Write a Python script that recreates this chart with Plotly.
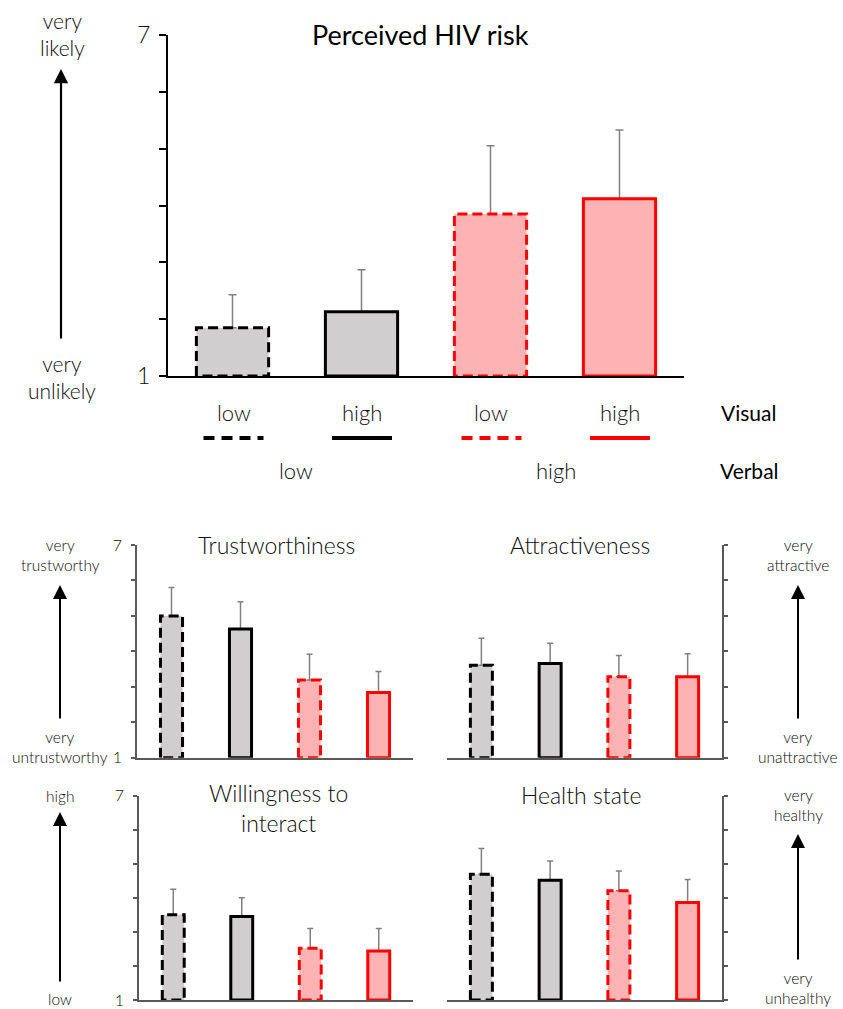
import plotly.graph_objects as go

# ---- data ---------------------------------------------------------------
conditions = ["low/low", "high/low", "low/high", "high/high"]  # visual / verbal

hiv_mean = [1.85, 2.13, 3.85, 4.12]
hiv_se = [0.58, 0.74, 1.20, 1.21]

trust_mean = [5.00, 4.63, 3.19, 2.84]
trust_se = [0.80, 0.77, 0.73, 0.59]

attract_mean = [3.61, 3.66, 3.28, 3.28]
attract_se = [0.76, 0.57, 0.60, 0.65]

willing_mean = [3.50, 3.45, 2.52, 2.44]
willing_se = [0.75, 0.55, 0.58, 0.66]

health_mean = [4.69, 4.52, 4.21, 3.86]
health_se = [0.76, 0.56, 0.58, 0.68]

scale_ticks = [1, 2, 3, 4, 5, 6, 7]
scale_ticktext = ["1", "", "", "", "", "", "7"]

visual_labels = ["low", "high", "low", "high"]
verbal_labels = ["low", "high"]

# ---- styling ------------------------------------------------------------
W, H = 843, 1009
FONT = "Lato"
GREY_FILL = "#D0CECE"
PINK_FILL = "#FDB3B3"
RED = "#FF0000"
BLACK = "#000000"
ERR = "#808080"
TXT = "#0d0d0d"
fills = [GREY_FILL, GREY_FILL, PINK_FILL, PINK_FILL]
edges = [BLACK, BLACK, RED, RED]
dashes = ["dash", "solid", "dash", "solid"]


def px(x):
    return x / W


def py(y):
    return 1 - y / H


fig = go.Figure()


def add_panel(idx, means, ses, bar_w, dash_pat, err_w, edge_w):
    xa = "x" if idx == 1 else f"x{idx}"
    ya = "y" if idx == 1 else f"y{idx}"
    for i, (m, s) in enumerate(zip(means, ses)):
        fig.add_trace(go.Bar(
            x=[i], y=[m], width=bar_w, xaxis=xa, yaxis=ya,
            marker=dict(color=fills[i], line=dict(width=0)),
            error_y=dict(type="data", symmetric=False, array=[s], arrayminus=[0],
                         color=ERR, thickness=1.5, width=err_w),
            showlegend=False, hoverinfo="skip",
        ))
        x0, x1 = i - bar_w / 2, i + bar_w / 2
        fig.add_trace(go.Scatter(
            x=[x0, x0, x1, x1, x0], y=[1, m, m, 1, 1], xaxis=xa, yaxis=ya,
            mode="lines",
            line=dict(color=edges[i], width=edge_w,
                      dash=dash_pat if dashes[i] == "dash" else "solid"),
            showlegend=False, hoverinfo="skip",
        ))


add_panel(1, hiv_mean, hiv_se, 0.56, "10px,5px", 4, 3)
add_panel(2, trust_mean, trust_se, 0.32, "10px,5px", 3, 3)
add_panel(3, attract_mean, attract_se, 0.32, "10px,5px", 3, 3)
add_panel(4, willing_mean, willing_se, 0.32, "10px,5px", 3, 3)
add_panel(5, health_mean, health_se, 0.32, "10px,5px", 3, 3)

# ---- axes ---------------------------------------------------------------
def xaxis(domain, anchor, color, lw):
    return dict(domain=domain, anchor=anchor, range=[-0.5, 3.5], automargin=False,
                showticklabels=False, ticks="", showgrid=False, zeroline=False,
                showline=True, linecolor=color, linewidth=lw, fixedrange=True)


def yaxis(domain, anchor, color, lw, ticklen, side, labels, size, standoff):
    return dict(domain=domain, anchor=anchor, range=[1, 7], side=side,
                automargin=False,
                tickvals=scale_ticks, ticktext=scale_ticktext if labels else [""] * 7,
                showticklabels=labels, ticks="outside", ticklen=ticklen,
                tickwidth=lw, tickcolor=color, showgrid=False, zeroline=False,
                showline=True, linecolor=color, linewidth=lw,
                tickfont=dict(family=FONT, size=size, color=TXT, weight=300),
                ticklabelstandoff=standoff, fixedrange=True)


AX2 = "#595959"
top_x = [px(168), px(684)]
top_y = [py(376), py(35)]
mid_y = [py(757.7), py(545)]
bot_y = [py(1000), py(795.7)]
left_x = [px(137), px(413)]
left_x_b = [px(139), px(413)]
right_x = [px(447), px(722)]

fig.update_layout(
    xaxis=xaxis(top_x, "y", BLACK, 2),
    yaxis=yaxis(top_y, "x", BLACK, 2, 7, "left", True, 23, 4),
    xaxis2=xaxis(left_x, "y2", AX2, 1.5),
    yaxis2=yaxis(mid_y, "x2", AX2, 1.5, 4, "left", True, 16, 6),
    xaxis3=xaxis(right_x, "y3", AX2, 1.5),
    yaxis3=yaxis(mid_y, "x3", AX2, 1.5, 4, "right", False, 16, 6),
    xaxis4=xaxis(left_x_b, "y4", AX2, 1.5),
    yaxis4=yaxis(bot_y, "x4", AX2, 1.5, 4, "left", True, 16, 6),
    xaxis5=xaxis(right_x, "y5", AX2, 1.5),
    yaxis5=yaxis(bot_y, "x5", AX2, 1.5, 4, "right", False, 16, 6),
)

# ---- text ---------------------------------------------------------------
annotations = []


def text(x, y, s, size, color=TXT, weight=300):
    f = dict(family=FONT, size=size, color=color, weight=weight)
    annotations.append(dict(x=px(x), y=py(y), xref="paper", yref="paper",
                            text=s, showarrow=False, xanchor="center",
                            yanchor="middle", font=f))


def arrow(x, y_head, y_tail, width=2, size=1.2):
    annotations.append(dict(x=px(x), y=py(y_head), xref="paper", yref="paper",
                            ax=0, ay=y_tail - y_head, axref="pixel", ayref="pixel",
                            text="", showarrow=True, arrowhead=2,
                            arrowsize=size, arrowwidth=width, arrowcolor=BLACK))


# Perceived HIV risk panel
text(420, 35, "Perceived HIV risk", 27, "#000", 400)
text(62, 34, "very<br>likely", 21)
text(62, 377, "very<br>unlikely", 21)
arrow(61, 69, 340, 2.2, 1.3)

# condition key below the top panel
bar_px = [233.5, 362, 491.5, 620]
for xc, lab in zip(bar_px, visual_labels):
    text(xc, 412, lab, 22)
text(748, 412, "Visual", 21, "#000", 400)
text(296, 470, verbal_labels[0], 22)
text(556, 470, verbal_labels[1], 22)
text(749, 470, "Verbal", 21, "#000", 400)

shapes = []
for xc, col, d in zip(bar_px, edges, dashes):
    shapes.append(dict(type="line", xref="paper", yref="paper",
                       x0=px(xc - 30), x1=px(xc + 30), y0=py(438), y1=py(438),
                       line=dict(color=col, width=4,
                                 dash="11px,7px" if d == "dash" else "solid")))

# small panels
text(276, 545, "Trustworthiness", 23)
text(580, 545, "Attractiveness", 23)
text(278, 808, "Willingness to<br>interact", 23)
text(581, 795, "Health state", 23)

text(60, 555, "very<br>trustworthy", 15.5)
text(60, 747, "very<br>untrustworthy", 15.5)
arrow(60, 585, 720, 2, 1.4)

text(798, 555, "very<br>attractive", 15.5)
text(798, 747, "very<br>unattractive", 15.5)
arrow(798, 585, 720, 2, 1.4)

text(60, 796, "high", 15.5)
text(60, 999, "low", 15.5)
arrow(60, 812, 983, 2, 1.4)

text(798, 805, "very<br>healthy", 15.5)
text(798, 988, "very<br>unhealthy", 15.5)
arrow(798, 834, 961, 2, 1.4)

fig.update_layout(
    template="none",
    width=W, height=H, margin=dict(l=0, r=0, t=0, b=0, pad=0),
    paper_bgcolor="white", plot_bgcolor="white",
    barmode="overlay", showlegend=False,
    annotations=annotations, shapes=shapes,
    font=dict(family=FONT),
)

fig.write_html("out.html")
